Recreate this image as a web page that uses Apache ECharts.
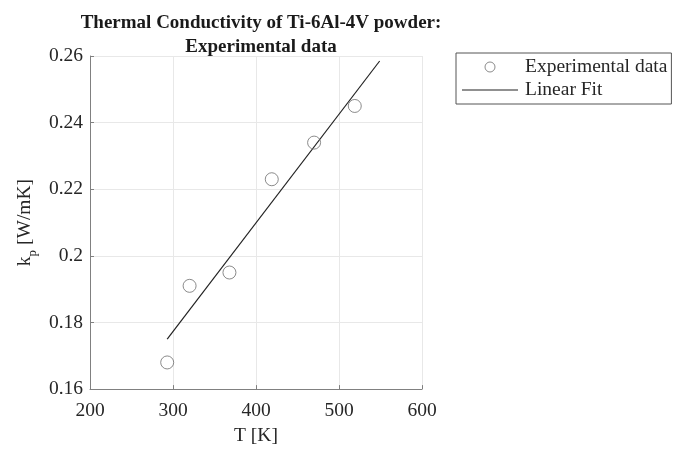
<!DOCTYPE html>
<html>
<head>
<meta charset="utf-8">
<script src="https://cdn.jsdelivr.net/npm/echarts@6/dist/echarts.min.js"></script>
<style>html,body{margin:0;padding:0;background:#fff}#c{width:683px;height:451px}</style>
</head>
<body>
<div id="c"></div>
<script>
const titleLines = ['Thermal Conductivity of Ti-6Al-4V powder:', 'Experimental data'];
const expT = [293, 320, 368, 419, 470, 519];
const expK = [0.168, 0.191, 0.195, 0.223, 0.234, 0.245];
const fitT = [293, 549];
const fitK = [0.175, 0.2585];
const xTicks = [200, 300, 400, 500, 600];
const yTicks = [0.16, 0.18, 0.20, 0.22, 0.24, 0.26];

const F = '"Liberation Serif", "Times New Roman", serif';
const TXT = '#262626';
const chart = echarts.init(document.getElementById('c'));
chart.setOption({
  animation: false,
  backgroundColor: '#fff',
  title: {
    text: titleLines.join('\n'),
    left: 256, top: 6, textAlign: 'center',
    textStyle: {fontFamily: F, fontWeight: 'bold', fontSize: 19, lineHeight: 24, color: '#1a1a1a'}
  },
  legend: {
    orient: 'vertical',
    left: 456, top: 53,
    padding: [4, 4, 4, 6],
    itemWidth: 56, itemHeight: 10, itemGap: 3,
    borderColor: '#555', borderWidth: 1,
    textStyle: {fontFamily: F, fontSize: 19.5, lineHeight: 20, color: TXT, padding: [0, 0, 0, 2]},
    data: [
      {name: 'Experimental data', icon: 'circle',
        itemStyle: {color: 'rgba(0,0,0,0)', borderColor: '#6e6e6e', borderWidth: 1}},
      {name: 'Linear Fit', icon: 'path://M0,0H56V1H0Z',
        itemStyle: {color: '#222', borderWidth: 0}}
    ]
  },
  grid: {left: 90, right: 261, top: 56, bottom: 54},
  xAxis: {
    type: 'value', min: 200, max: 600, interval: 100,
    name: 'T [K]', nameLocation: 'middle', nameGap: 35,
    nameTextStyle: {fontFamily: F, fontSize: 19.5, color: TXT},
    axisLine: {show: true, lineStyle: {color: '#808080', width: 1}},
    axisTick: {show: true, inside: true, length: 4, lineStyle: {color: '#808080'}},
    axisLabel: {fontFamily: F, fontSize: 19.5, color: TXT, margin: 12,
      formatter: v => xTicks.includes(v) ? String(v) : ''},
    splitLine: {show: true, lineStyle: {color: '#e8e8e8', width: 1}}
  },
  yAxis: {
    type: 'value', min: 0.16, max: 0.26, interval: 0.02,
    name: '{k|k}{p|p}{k| [W/mK]}', nameLocation: 'middle', nameGap: 51, nameRotate: 90,
    nameTextStyle: {
      rich: {
        k: {fontFamily: F, fontSize: 19.5, color: TXT, lineHeight: 24, verticalAlign: 'top'},
        p: {fontFamily: F, fontSize: 13, color: TXT, lineHeight: 14, verticalAlign: 'bottom'}
      }
    },
    axisLine: {show: true, lineStyle: {color: '#808080', width: 1}},
    axisTick: {show: true, inside: true, length: 4, lineStyle: {color: '#808080'}},
    axisLabel: {fontFamily: F, fontSize: 19.5, color: TXT, margin: 7,
      formatter: v => { const t = yTicks.find(x => Math.abs(x - v) < 1e-9); return t === undefined ? '' : String(+t.toFixed(2)); }},
    splitLine: {show: true, lineStyle: {color: '#e8e8e8', width: 1}}
  },
  series: [
    {
      name: 'Experimental data', type: 'scatter',
      symbol: 'circle', symbolSize: 13,
      itemStyle: {color: 'rgba(0,0,0,0)', borderColor: '#6e6e6e', borderWidth: 1},
      data: expT.map((t, i) => [t, expK[i]]),
      z: 3
    },
    {
      name: 'Linear Fit', type: 'line',
      symbol: 'none',
      lineStyle: {color: '#222', width: 1.2},
      itemStyle: {color: '#222'},
      data: fitT.map((t, i) => [t, fitK[i]]),
      z: 2
    }
  ]
});
</script>
</body>
</html>
